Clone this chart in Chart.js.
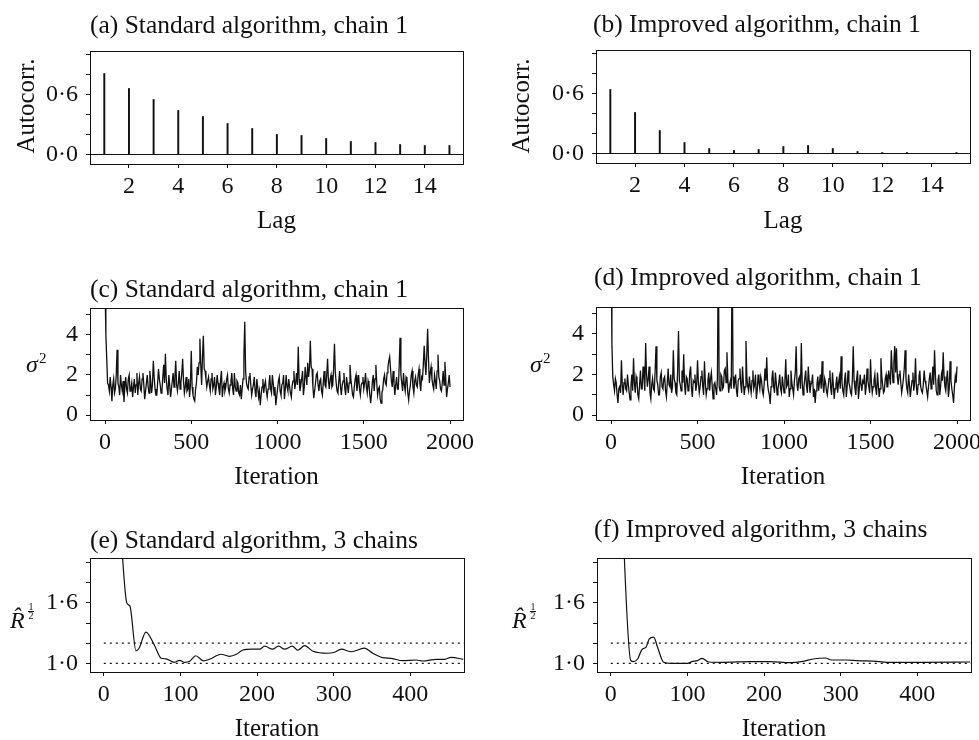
<!DOCTYPE html>
<html>
<head>
<meta charset="utf-8">
<script src="https://cdn.jsdelivr.net/npm/chart.js@4.4.0/dist/chart.umd.min.js"></script>
<style>
  html, body { margin: 0; padding: 0; background: #fff; overflow: hidden; }
  body { width: 979px; height: 740px; position: relative; }
  canvas { position: absolute; }
</style>
</head>
<body>
<canvas id="pa" width="490" height="240" style="left:0;top:0"></canvas>
<canvas id="pb" width="510" height="240" style="left:490px;top:0"></canvas>
<canvas id="pc" width="490" height="250" style="left:0;top:240px"></canvas>
<canvas id="pd" width="510" height="250" style="left:490px;top:240px"></canvas>
<canvas id="pe" width="490" height="250" style="left:0;top:490px"></canvas>
<canvas id="pf" width="510" height="250" style="left:490px;top:490px"></canvas>
<script>
// autocorrelation, lags 1..15
const acfLags = [1, 2, 3, 4, 5, 6, 7, 8, 9, 10, 11, 12, 13, 14, 15];
const acfStandard = [0.81, 0.66, 0.55, 0.44, 0.38, 0.31, 0.26, 0.20, 0.19, 0.16, 0.13, 0.12, 0.10, 0.09, 0.09];
const acfImproved = [0.64, 0.41, 0.23, 0.11, 0.05, 0.03, 0.04, 0.07, 0.08, 0.05, 0.02, 0.01, 0.01, 0.00, 0.01];
const acfXTicks = [2, 4, 6, 8, 10, 12, 14];
const acfYTicks = [0, 0.2, 0.4, 0.6, 0.8, 1.0];
const acfYLabels = ['0·0', '', '', '0·6', '', ''];

// sigma^2 traces, read every 5th iteration (0..2000)
const traceStep = 5;
const traceStandard = [
  6.5, 4.0, 2.8, 1.6, 1.5, 1.2, 1.9, 1.4, 0.7, 1.5, 1.8, 1.1, 1.3, 2.0, 3.25, 1.6, 1.4, 1.0, 2.0, 1.5,
  1.2, 1.7, 0.65, 1.4, 1.9, 1.3, 1.1, 1.8, 2.0, 1.2, 1.3, 1.6, 0.9, 1.4, 1.8, 1.1, 1.5, 2.1, 1.0, 1.6,
  1.9, 1.3, 1.2, 1.8, 2.1, 1.5, 0.8, 1.2, 1.6, 2.0, 1.4, 1.1, 2.2, 1.7, 1.1, 1.5, 2.7, 1.9, 1.3, 1.0,
  1.0, 1.6, 2.3, 1.8, 1.5, 1.1, 1.2, 1.9, 2.5, 1.6, 3.05, 1.8, 1.3, 1.0, 2.0, 1.5, 0.9, 1.3, 1.7, 2.1,
  1.4, 1.9, 2.7, 1.5, 1.2, 1.6, 2.2, 1.3, 1.6, 2.1, 2.8, 1.7, 1.1, 1.4, 1.9, 1.2, 1.3, 1.8, 0.9, 1.5,
  3.2, 1.4, 1.0, 0.8, 0.7, 1.3, 1.6, 2.4, 2.0, 2.6, 3.8, 2.5, 1.5, 2.9, 3.95, 2.3, 2.2, 1.8, 1.4, 1.7,
  1.9, 1.5, 1.2, 1.8, 2.1, 1.3, 1.5, 1.9, 1.0, 1.4, 2.0, 1.6, 1.3, 1.0, 1.8, 2.2, 0.9, 1.4, 1.6, 1.2,
  1.4, 1.8, 2.0, 1.3, 1.1, 1.5, 1.7, 2.1, 1.3, 1.0, 2.1, 1.4, 1.2, 1.7, 1.6, 1.1, 1.0, 1.5, 0.8, 1.3,
  1.8, 2.9, 4.65, 2.2, 1.6, 1.4, 1.3, 1.9, 2.1, 1.5, 1.0, 1.3, 1.5, 1.9, 1.2, 0.9, 1.8, 1.4, 0.9, 1.2,
  0.5, 1.0, 1.4, 1.8, 1.1, 1.5, 1.7, 1.2, 0.9, 1.3, 1.5, 2.0, 1.3, 1.1, 2.0, 1.6, 1.0, 1.4, 0.5, 0.9,
  1.3, 1.7, 1.9, 1.2, 1.0, 1.5, 1.6, 2.0, 0.8, 1.3, 2.0, 1.4, 1.2, 1.8, 1.4, 1.1, 0.9, 1.5, 1.7, 2.2,
  1.3, 1.6, 2.1, 1.5, 3.4, 1.8, 1.2, 1.5, 1.8, 2.2, 1.0, 1.4, 2.4, 1.9, 1.5, 2.6, 1.9, 2.3, 3.7, 2.4,
  2.3, 1.4, 0.85, 1.2, 1.6, 2.0, 2.1, 1.5, 1.2, 1.7, 1.8, 1.2, 1.0, 1.6, 2.2, 1.5, 1.4, 2.0, 2.8, 1.7,
  1.3, 1.8, 2.0, 1.4, 1.5, 2.3, 3.55, 2.1, 1.6, 1.2, 1.1, 1.7, 2.2, 1.4, 1.0, 1.5, 1.7, 2.1, 1.3, 1.0,
  1.9, 1.5, 1.1, 1.6, 2.5, 1.8, 1.4, 1.0, 0.9, 1.4, 1.8, 2.0, 1.2, 1.6, 2.0, 1.3, 1.0, 1.5, 1.6, 1.9,
  1.3, 1.6, 2.1, 1.4, 1.1, 1.7, 1.5, 1.0, 0.6, 1.1, 1.7, 2.0, 1.2, 1.8, 2.5, 1.6, 1.0, 1.3, 1.4, 0.8,
  0.6, 1.1, 1.3, 1.8, 2.0, 1.6, 1.5, 2.1, 2.4, 2.7, 2.9, 2.3, 1.7, 1.4, 2.2, 1.6, 1.0, 1.5, 1.9, 1.3,
  1.3, 2.4, 3.85, 2.0, 1.6, 1.2, 2.1, 1.5, 1.2, 1.9, 1.8, 1.1, 0.75, 1.2, 1.5, 2.0, 2.2, 1.4, 1.1, 1.7,
  1.9, 1.5, 1.4, 2.0, 2.3, 1.6, 1.2, 1.9, 1.8, 2.5, 3.45, 2.6, 2.0, 3.0, 4.3, 2.8, 1.6, 2.1, 2.4, 1.8,
  1.5, 1.3, 2.0, 1.7, 1.3, 2.2, 3.0, 1.9, 1.7, 1.3, 1.2, 1.6, 2.2, 1.5, 2.65, 1.8, 0.9, 1.3, 1.6, 2.0,
  1.4
];
const traceImproved = [
  9.0, 3.5, 1.9, 1.5, 1.2, 1.8, 1.6, 1.0, 0.6, 1.3, 1.4, 1.1, 2.7, 1.5, 1.0, 1.6, 1.8, 1.3, 1.2, 2.0,
  1.5, 1.1, 0.75, 1.4, 2.0, 1.2, 2.8, 1.6, 1.1, 1.9, 1.7, 1.0, 0.8, 1.5, 2.2, 1.3, 1.3, 2.4, 1.9, 1.2,
  3.55, 2.0, 1.4, 1.8, 2.4, 1.1, 0.8, 1.5, 1.8, 1.3, 1.2, 2.2, 3.4, 1.7, 1.5, 1.0, 1.0, 1.9, 2.1, 1.4,
  1.3, 1.8, 1.9, 1.2, 0.9, 1.6, 2.3, 1.5, 1.4, 2.0, 1.1, 1.4, 3.2, 1.8, 1.6, 1.1, 1.0, 2.2, 4.15, 1.7,
  1.5, 1.2, 2.2, 1.6, 3.0, 1.5, 1.0, 1.9, 1.8, 1.2, 1.3, 2.1, 2.4, 1.3, 0.9, 1.7, 1.6, 2.0, 1.2, 1.5,
  2.7, 1.6, 1.1, 1.4, 1.9, 2.2, 1.4, 1.0, 2.65, 1.6, 1.0, 1.3, 1.7, 2.1, 1.2, 1.8, 2.1, 1.4, 0.8, 1.5,
  1.6, 1.3, 1.0, 1.8, 8.5, 1.4, 1.2, 2.0, 1.9, 1.3, 1.4, 2.2, 2.3, 1.6, 3.1, 1.8, 1.1, 1.5, 1.7, 1.3,
  8.5, 1.9, 1.3, 1.6, 2.0, 1.2, 0.9, 1.7, 1.8, 2.3, 1.5, 1.1, 2.4, 1.6, 1.0, 1.4, 3.65, 1.9, 1.4, 1.2,
  1.9, 1.4, 1.1, 1.7, 2.2, 1.3, 1.5, 2.0, 0.8, 1.2, 2.0, 1.6, 1.3, 1.9, 1.7, 1.2, 1.0, 1.5, 2.3, 1.7,
  2.85, 1.5, 1.2, 1.0, 0.55, 1.4, 1.8, 2.2, 1.4, 1.1, 2.1, 1.6, 1.0, 1.3, 1.6, 2.0, 1.3, 1.1, 1.9, 1.5,
  1.1, 1.7, 2.75, 1.4, 1.5, 2.0, 0.9, 1.3, 2.2, 1.6, 1.3, 1.0, 1.7, 2.1, 3.4, 1.5, 1.2, 1.8, 1.9, 1.3,
  3.55, 1.6, 1.0, 1.4, 1.8, 2.2, 1.4, 1.1, 2.4, 1.7, 1.1, 1.5, 1.6, 2.0, 0.9, 1.3, 0.6, 1.2, 1.5, 1.9,
  1.2, 1.6, 2.0, 1.3, 2.65, 1.5, 1.1, 1.8, 1.6, 1.2, 1.0, 1.4, 1.8, 2.2, 1.3, 1.0, 2.1, 1.5, 0.8, 1.3,
  1.5, 1.9, 1.1, 1.6, 1.9, 1.3, 2.9, 1.6, 1.2, 1.0, 1.7, 2.1, 0.9, 1.4, 2.2, 1.6, 1.4, 1.1, 1.0, 1.8,
  3.4, 1.7, 1.3, 1.0, 1.8, 2.2, 0.8, 1.3, 2.0, 1.5, 1.2, 1.7, 1.6, 2.0, 1.0, 1.4, 2.3, 1.7, 1.4, 1.1,
  2.75, 1.6, 1.1, 1.4, 1.7, 2.0, 1.3, 1.0, 2.1, 1.5, 0.9, 1.3, 2.8, 1.9, 1.5, 1.1, 1.2, 1.8, 2.0, 1.4,
  1.4, 2.2, 1.9, 1.5, 3.2, 2.3, 1.6, 2.6, 3.4, 2.1, 3.3, 1.9, 1.5, 2.0, 2.2, 1.6, 1.1, 1.4, 1.8, 2.3,
  3.2, 1.8, 1.3, 1.1, 2.0, 1.5, 0.9, 1.3, 1.7, 2.1, 1.2, 1.6, 2.8, 1.4, 1.0, 1.5, 1.9, 2.2, 1.4, 1.2,
  1.1, 1.5, 2.2, 1.7, 1.5, 1.2, 0.9, 1.4, 1.8, 2.1, 1.3, 1.6, 2.4, 1.5, 3.2, 2.0, 1.2, 1.0, 1.7, 2.0,
  1.0, 1.4, 2.0, 1.7, 3.1, 1.9, 1.4, 1.2, 1.8, 2.2, 0.9, 1.3, 2.65, 1.7, 1.3, 1.0, 0.6, 1.4, 1.9, 1.6,
  2.4
];
const traceXTicks = [0, 500, 1000, 1500, 2000];
const traceYTicks = [0, 1, 2, 3, 4, 5];
const traceYLabels = ['0', '', '2', '', '4', ''];

// sqrt(R-hat), 3 chains
const rhatIterStd = [20, 30, 34, 42, 46, 55, 66, 75, 81, 92, 99, 105, 112, 120, 130, 138, 153, 164, 173, 181, 194, 203, 210, 220, 228, 236, 246, 253, 262, 273, 292, 301, 310, 323, 340, 351, 364, 375, 390, 408, 416, 434, 445, 453, 469];
const rhatStd = [2.58, 1.60, 1.57, 1.125, 1.15, 1.31, 1.18, 1.05, 1.045, 1.01, 1.03, 1.01, 1.02, 1.075, 1.025, 1.04, 1.09, 1.07, 1.09, 1.13, 1.14, 1.14, 1.17, 1.14, 1.17, 1.14, 1.17, 1.13, 1.175, 1.12, 1.10, 1.11, 1.14, 1.115, 1.15, 1.10, 1.056, 1.05, 1.026, 1.033, 1.023, 1.04, 1.04, 1.06, 1.04];
const rhatIterImp = [10, 26, 30, 35, 41, 46, 50, 56, 61, 69, 78, 100, 106, 113, 119, 128, 147, 182, 208, 234, 251, 264, 280, 288, 308, 321, 347, 364, 407, 469];
const rhatImp = [3.5, 1.03, 1.017, 1.043, 1.14, 1.16, 1.24, 1.26, 1.16, 1.01, 1.0, 1.0, 1.017, 1.027, 1.05, 1.013, 1.01, 1.017, 1.017, 1.007, 1.02, 1.043, 1.053, 1.033, 1.033, 1.027, 1.02, 1.01, 1.01, 1.013];
const rhatRefLevels = [1.0, 1.2];
const rhatXTicks = [0, 100, 200, 300, 400];
const rhatYTicks = [1.0, 1.2, 1.4, 1.6, 1.8, 2.0];
const rhatYLabels = ['1·0', '', '', '1·6', '', ''];

const ink = '#111';
const serif = '"Liberation Serif", "Times New Roman", serif';
Chart.defaults.font.family = serif;

// frame, panel title and y-axis label
const panelDecor = {
  id: 'panelDecor',
  afterDraw(chart, args, o) {
    const ctx = chart.ctx, a = chart.chartArea;
    ctx.save();
    ctx.strokeStyle = ink;
    ctx.lineWidth = 1;
    ctx.strokeRect(Math.round(a.left) + 0.5, Math.round(a.top) + 0.5,
      Math.round(a.right - a.left), Math.round(a.bottom - a.top));
    ctx.fillStyle = ink;
    ctx.textAlign = 'left';
    ctx.textBaseline = 'alphabetic';
    ctx.font = '25.5px ' + serif;
    ctx.fillText(o.title, o.titleX, o.titleY);

    const lx = o.labelX, ly = o.labelY;
    if (o.label === 'autocorr') {
      ctx.translate(lx, ly);
      ctx.rotate(-Math.PI / 2);
      ctx.textAlign = 'center';
      ctx.textBaseline = 'middle';
      ctx.font = '25px ' + serif;
      ctx.fillText('Autocorr.', 0, 0);
    } else if (o.label === 'sigma') {
      ctx.font = 'italic 24px ' + serif;
      ctx.fillText('σ', lx, ly);
      ctx.font = '15px ' + serif;
      ctx.fillText('2', lx + 13, ly - 9);
    } else if (o.label === 'rhat') {
      ctx.font = 'italic 24px ' + serif;
      ctx.fillText('R\u0302', lx, ly);
      ctx.font = '10px ' + serif;
      ctx.textAlign = 'center';
      ctx.fillText('1', lx + 21, ly - 18);
      ctx.fillText('2', lx + 21, ly - 9);
      ctx.fillRect(lx + 18, ly - 17, 6, 1);
    }
    ctx.restore();
  }
};

function makeScales(p) {
  return {
    x: {
      type: 'linear', min: p.xMin, max: p.xMax, offset: false,
      afterBuildTicks: s => { s.ticks = p.xTicks.map(v => ({ value: v })); },
      afterFit: s => { s.height = p.xHeight; },
      ticks: {
        autoSkip: false, maxRotation: 0, padding: 4, color: ink,
        font: { family: serif, size: 24 },
        callback: (v, i) => String(p.xTicks[i])
      },
      grid: { drawOnChartArea: false, offset: false, tickLength: 4, tickColor: ink },
      border: { display: false },
      title: {
        display: true, text: p.xTitle, color: ink,
        font: { family: serif, size: 25, lineHeight: 1 },
        padding: { top: 0, bottom: p.xTitlePad }
      }
    },
    y: {
      type: 'linear', min: p.yMin, max: p.yMax,
      afterBuildTicks: s => { s.ticks = p.yTicks.map(v => ({ value: v })); },
      afterFit: s => { s.width = p.yWidth; },
      ticks: {
        autoSkip: false, padding: 8, color: ink,
        font: { family: serif, size: 24 },
        callback: (v, i) => p.yLabels[i]
      },
      grid: {
        drawOnChartArea: !!p.zeroLine,
        color: c => (p.zeroLine && c.tick && c.tick.value === 0) ? ink : 'rgba(0,0,0,0)',
        tickLength: 4, tickColor: ink
      },
      border: { display: false }
    }
  };
}

function makeOptions(p) {
  return {
    responsive: false,
    animation: false,
    devicePixelRatio: 1,
    layout: { padding: { left: 0, top: p.padTop, right: p.padRight, bottom: 0 } },
    plugins: {
      legend: { display: false },
      tooltip: { enabled: false },
      panelDecor: {
        title: p.title, titleX: p.titleX, titleY: p.titleY,
        label: p.label, labelX: p.labelX, labelY: p.labelY
      }
    },
    scales: makeScales(p)
  };
}

function acfChart(id, values, p) {
  new Chart(document.getElementById(id), {
    type: 'bar',
    data: {
      datasets: [{
        data: acfLags.map((lag, i) => ({ x: lag, y: values[i] })),
        backgroundColor: ink,
        barThickness: 1.3,
        grouped: false
      }]
    },
    options: makeOptions(Object.assign({
      xMin: 0.42, xMax: 15.55, xTicks: acfXTicks, xTitle: 'Lag', xTitlePad: 6,
      yMin: -0.095, yMax: 1.035, yTicks: acfYTicks, yLabels: acfYLabels,
      zeroLine: true, label: 'autocorr'
    }, p)),
    plugins: [panelDecor]
  });
}

function traceChart(id, values, p) {
  new Chart(document.getElementById(id), {
    type: 'line',
    data: {
      datasets: [{
        data: values.map((v, i) => ({ x: i * traceStep, y: v })),
        borderColor: ink,
        borderWidth: 1.3,
        pointRadius: 0,
        tension: 0
      }]
    },
    options: makeOptions(Object.assign({
      xMin: -87, xMax: 2075, xTicks: traceXTicks, xTitle: 'Iteration', xTitlePad: 0,
      yMin: -0.24, yMax: 5.33, yTicks: traceYTicks, yLabels: traceYLabels,
      label: 'sigma'
    }, p)),
    plugins: [panelDecor]
  });
}

function rhatChart(id, iters, values, p) {
  const xMax = 470;
  const refSets = rhatRefLevels.map(level => ({
    data: [{ x: 0, y: level }, { x: xMax, y: level }],
    borderColor: ink,
    borderWidth: 1.2,
    borderDash: [2, 4],
    pointRadius: 0
  }));
  new Chart(document.getElementById(id), {
    type: 'line',
    data: {
      datasets: refSets.concat([{
        data: iters.map((it, i) => ({ x: it, y: values[i] })),
        borderColor: ink,
        borderWidth: 1.2,
        pointRadius: 0,
        cubicInterpolationMode: 'monotone'
      }])
    },
    options: makeOptions(Object.assign({
      xMin: -18, xMax: xMax, xTicks: rhatXTicks, xTitle: 'Iteration', xTitlePad: -2,
      yMin: 0.914, yMax: 2.045, yTicks: rhatYTicks, yLabels: rhatYLabels,
      label: 'rhat'
    }, p)),
    plugins: [panelDecor]
  });
}

acfChart('pa', acfStandard, {
  yWidth: 90, padTop: 51, padRight: 27, xHeight: 76,
  title: '(a) Standard algorithm, chain 1', titleX: 90, titleY: 33,
  labelX: 27, labelY: 106
});
acfChart('pb', acfImproved, {
  yWidth: 106, padTop: 50, padRight: 30, xHeight: 77,
  title: '(b) Improved algorithm, chain 1', titleX: 103, titleY: 32,
  labelX: 32, labelY: 106
});
traceChart('pc', traceStandard, {
  yWidth: 90, padTop: 68, padRight: 27, xHeight: 70,
  title: '(c) Standard algorithm, chain 1', titleX: 90, titleY: 57,
  labelX: 26, labelY: 132
});
traceChart('pd', traceImproved, {
  yWidth: 106, padTop: 67, padRight: 30, xHeight: 70,
  title: '(d) Improved algorithm, chain 1', titleX: 104, titleY: 45,
  labelX: 40, labelY: 132
});
rhatChart('pe', rhatIterStd, rhatStd, {
  yWidth: 90, padTop: 68, padRight: 26, xHeight: 68,
  title: '(e) Standard algorithm, 3 chains', titleX: 90, titleY: 58,
  labelX: 10, labelY: 138
});
rhatChart('pf', rhatIterImp, rhatImp, {
  yWidth: 107, padTop: 68, padRight: 29, xHeight: 68,
  title: '(f) Improved algorithm, 3 chains', titleX: 104, titleY: 47,
  labelX: 22, labelY: 138
});
</script>
</body>
</html>
